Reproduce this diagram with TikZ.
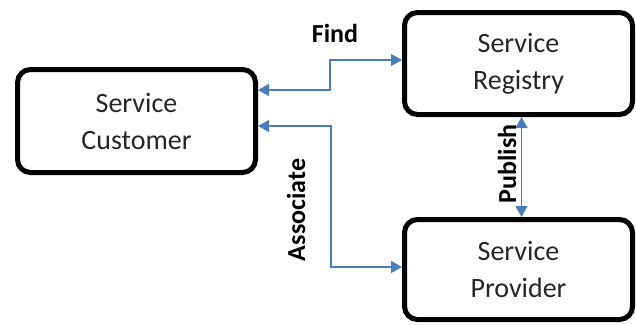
\documentclass[tikz,border=0pt]{standalone}
\usepackage{fontspec}
\setmainfont{Carlito}
\usepackage{xcolor}
\usetikzlibrary{arrows.meta}
\definecolor{linkblue}{RGB}{74,126,187}
\definecolor{boxtext}{RGB}{38,38,38}

\begin{document}
\begin{tikzpicture}[x=1pt,y=-1pt,
  svcbox/.style={draw,line width=5pt,rounded corners=13pt,align=center,text=boxtext,
    font=\fontsize{28}{37}\selectfont},
  link/.style={{Triangle[length=11pt,width=12pt]}-{Triangle[length=11pt,width=12pt]},linkblue,line width=1.4pt},
  lbl/.style={font=\fontsize{26}{30}\selectfont\bfseries}]
  \useasboundingbox (0,0) rectangle (636,324);
  \node[svcbox,minimum width=238pt,minimum height=103pt] (cust) at (136.5,121) {Service\\Customer};
  \node[svcbox,minimum width=228pt,minimum height=102pt] (reg) at (518.5,63.5) {Service\\Registry};
  \node[svcbox,minimum width=228pt,minimum height=100pt] (prov) at (518.5,269.5) {Service\\Provider};
  \draw[link] ([yshift=31pt]cust.east) -- ++(72,0) |- ([yshift=3.5pt]reg.west);
  \draw[link] ([yshift=-5pt]cust.east) -- ++(73,0) |- ([yshift=2.5pt]prov.west);
  \draw[link] ([xshift=3pt]reg.south) -- ([xshift=3pt]prov.north);
  \node[lbl] (find) at (335,33) {Find};
  \node[lbl,rotate=90] (assoc) at (296,210) {Associate};
  \node[lbl,rotate=90] (pub) at (507,164) {Publish};
\end{tikzpicture}
\end{document}
